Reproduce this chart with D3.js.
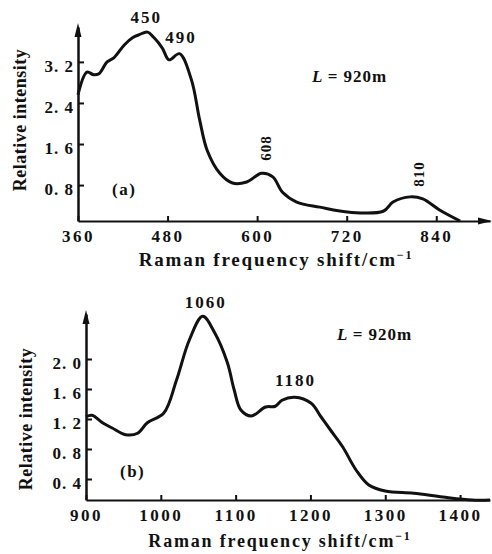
<!DOCTYPE html>
<html>
<head>
<meta charset="utf-8">
<script src="https://cdnjs.cloudflare.com/ajax/libs/d3/7.8.5/d3.min.js"></script>
<style>
  body { margin: 0; background: #fff; }
  svg text { font-family: "Liberation Serif", "DejaVu Serif", serif; font-weight: bold; fill: #111; }
</style>
</head>
<body>
<div id="chart"></div>
<script>
// panel (a) spectrum
var shiftA = [360, 372, 381, 388, 399, 408, 422, 433, 442, 453, 462, 473, 482, 496, 512, 523, 533, 550, 567, 586, 606, 621, 634, 653, 684, 724, 769, 782, 805, 822, 845, 872];
var intensityA = [2.56, 3.0, 2.95, 2.97, 3.2, 3.28, 3.53, 3.67, 3.73, 3.78, 3.67, 3.47, 3.24, 3.36, 2.85, 2.07, 1.48, 1.03, 0.84, 0.86, 1.03, 0.96, 0.66, 0.47, 0.37, 0.27, 0.29, 0.47, 0.57, 0.53, 0.31, 0.1];
var ticksXA = [360, 480, 600, 720, 840];
var ticksYA = [0.8, 1.6, 2.4, 3.2];

// panel (b) spectrum
var shiftB = [900, 908, 922, 935, 953, 969, 982, 1004, 1021, 1038, 1056, 1072, 1089, 1098, 1107, 1121, 1140, 1153, 1162, 1179, 1201, 1214, 1227, 1243, 1261, 1278, 1300, 1338, 1377, 1416, 1440];
var intensityB = [1.23, 1.25, 1.15, 1.08, 0.99, 1.01, 1.15, 1.28, 1.72, 2.25, 2.57, 2.35, 1.95, 1.59, 1.32, 1.24, 1.36, 1.37, 1.45, 1.49, 1.41, 1.23, 1.05, 0.83, 0.52, 0.32, 0.24, 0.21, 0.16, 0.12, 0.12];
var ticksXB = [900, 1000, 1100, 1200, 1300, 1400];
var ticksYB = [0.4, 0.8, 1.2, 1.6, 2.0];

var peaksA = [{x: 450, label: "450"}, {x: 490, label: "490"}];
var peaksB = [{x: 1060, label: "1060"}, {x: 1180, label: "1180"}];

var svg = d3.select("#chart").append("svg")
    .attr("width", 492)
    .attr("height", 554);

// "3.2" -> "3. 2" like the print
function fmtY(d) { return d.toFixed(1).replace(".", ". "); }

function panel(cfg) {
  var g = svg.append("g");
  var x = d3.scaleLinear().domain(cfg.xDomain).range(cfg.xRange);
  var y = d3.scaleLinear().domain(cfg.yDomain).range(cfg.yRange);

  // axes
  var xAxis = g.append("g")
      .attr("transform", "translate(0," + cfg.yRange[0] + ")")
      .call(d3.axisBottom(x).tickValues(cfg.ticksX).tickSizeInner(-5).tickSizeOuter(0).tickPadding(9).tickFormat(d3.format("d")));
  xAxis.select(".domain").attr("stroke-width", 2).attr("stroke", "#111");
  xAxis.selectAll(".tick line").attr("stroke-width", 2).attr("stroke", "#111");
  xAxis.selectAll(".tick text").style("font-size", "17px").style("letter-spacing", "2.5px").attr("font-family", null);

  var yAxis = g.append("g")
      .attr("transform", "translate(" + cfg.xRange[0] + ",0)")
      .call(d3.axisLeft(y).tickValues(cfg.ticksY).tickSizeInner(-6).tickSizeOuter(0).tickPadding(4).tickFormat(fmtY));
  yAxis.select(".domain").attr("stroke-width", 2.5).attr("stroke", "#111");
  yAxis.selectAll(".tick line").attr("stroke-width", 2).attr("stroke", "#111");
  yAxis.selectAll(".tick text").style("font-size", "17px").style("letter-spacing", "1px").attr("dy", "0.55em").attr("font-family", null);

  // arrow heads
  var ax = cfg.xRange[0], top = cfg.yRange[1];
  g.append("path")
    .attr("d", "M" + ax + "," + (top - 4) + " L" + (ax - 3.5) + "," + (top + 10) + " L" + (ax + 3.5) + "," + (top + 10) + "Z")
    .attr("fill", "#111");
  if (cfg.xArrow) {
    var rx = cfg.xRange[1], by = cfg.yRange[0];
    g.append("path")
      .attr("d", "M" + (rx + 2) + "," + by + " L" + (rx - 12) + "," + (by - 3.5) + " L" + (rx - 12) + "," + (by + 3.5) + "Z")
      .attr("fill", "#111");
  }

  // curve
  var pts = cfg.xs.map(function(d, i) { return {x: d, v: cfg.vs[i]}; });
  g.append("path")
    .datum(pts)
    .attr("fill", "none")
    .attr("stroke", "#111")
    .attr("stroke-width", 3)
    .attr("stroke-linejoin", "round")
    .attr("d", d3.line()
      .x(function(d) { return x(d.x); })
      .y(function(d) { return y(d.v); })
      .curve(d3.curveCatmullRom.alpha(0.5)));

  // labels
  g.append("text")
    .attr("transform", "translate(" + cfg.yLabelX + "," + cfg.yLabelY + ") rotate(-90)")
    .attr("text-anchor", "middle")
    .style("font-size", "18px")
    .style("letter-spacing", "0.5px")
    .text("Relative intensity");

  var xl = g.append("text")
    .attr("x", cfg.xLabelX)
    .attr("y", cfg.xLabelY)
    .attr("text-anchor", "middle")
    .style("font-size", cfg.xLabelSize + "px")
    .style("letter-spacing", "1.8px")
    .text("Raman frequency shift/cm");
  xl.append("tspan").attr("dy", -7).style("font-size", "12px").text("\u22121");

  g.append("text")
    .attr("x", cfg.tagX).attr("y", cfg.tagY)
    .style("font-size", "17px")
    .style("letter-spacing", "1.5px")
    .text(cfg.tag);

  var lt = g.append("text")
    .attr("x", cfg.lX).attr("y", cfg.lY)
    .style("font-size", "17px");
  lt.append("tspan").style("font-style", "italic").text("L");
  lt.append("tspan").style("letter-spacing", "1px").text(" = 920m");

  cfg.peaks.forEach(function(p) {
    g.append("text")
      .attr("x", x(p.x) + (p.dx || 0))
      .attr("y", p.y)
      .attr("text-anchor", "middle")
      .style("font-size", "17px")
      .style("letter-spacing", "2px")
      .text(p.label);
  });
  (cfg.vpeaks || []).forEach(function(p) {
    g.append("text")
      .attr("transform", "translate(" + (x(p.x) + p.dx) + "," + p.y + ") rotate(-90)")
      .attr("text-anchor", "middle")
      .style("font-size", "15px")
      .style("letter-spacing", "1px")
      .text(p.label);
  });
}

panel({
  xDomain: [360, 912], xRange: [78, 490],
  yDomain: [0.1, 3.88], yRange: [221, 27],
  ticksX: ticksXA, ticksY: ticksYA,
  xs: shiftA, vs: intensityA, xArrow: true,
  yLabelX: 26, yLabelY: 120, xLabelX: 276, xLabelY: 266, xLabelSize: 19,
  tag: "(a)", tagX: 112, tagY: 195,
  lX: 312, lY: 82,
  peaks: [{x: peaksA[0].x, label: peaksA[0].label, y: 23, dx: 1}, {x: peaksA[1].x, label: peaksA[1].label, y: 43, dx: 6}],
  vpeaks: [{x: 608, label: "608", y: 148, dx: 8}, {x: 810, label: "810", y: 174, dx: 10}]
});

panel({
  xDomain: [900, 1440], xRange: [86, 490],
  yDomain: [0.12, 2.6], yRange: [500, 314],
  ticksX: ticksXB, ticksY: ticksYB,
  xs: shiftB, vs: intensityB, xArrow: false,
  yLabelX: 32, yLabelY: 419, xLabelX: 280, xLabelY: 547, xLabelSize: 18,
  tag: "(b)", tagX: 120, tagY: 477,
  lX: 337, lY: 340,
  peaks: [{x: peaksB[0].x, label: peaksB[0].label, y: 308}, {x: peaksB[1].x, label: peaksB[1].label, y: 386}]
});
</script>
</body>
</html>
